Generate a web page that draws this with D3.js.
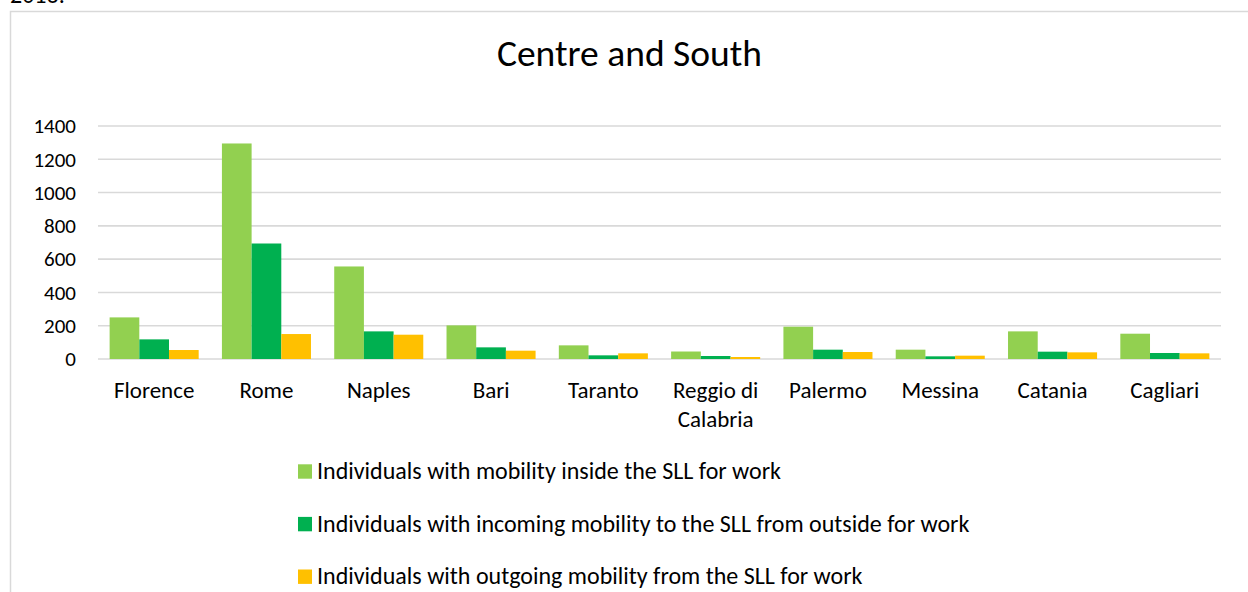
<!DOCTYPE html>
<html>
<head>
<meta charset="utf-8">
<script src="https://cdn.jsdelivr.net/npm/d3@7"></script>
<style>
  html, body { margin: 0; padding: 0; background: #fff; }
  svg { display: block; font-family: Carlito, Lato, "Open Sans", sans-serif; }
</style>
</head>
<body>
<svg id="chart" width="1248" height="592"></svg>
<script>
const categories = ["Florence", "Rome", "Naples", "Bari", "Taranto", "Reggio di Calabria", "Palermo", "Messina", "Catania", "Cagliari"];
const seriesNames = [
  "Individuals with mobility inside the SLL for work",
  "Individuals with incoming mobility to the SLL from outside for work",
  "Individuals with outgoing mobility from the SLL for work"
];
const insideValues   = [250, 1295, 556, 202, 82, 45, 194, 56, 166, 152];
const incomingValues = [118, 694, 166, 70, 22, 18, 56, 16, 44, 36];
const outgoingValues = [54, 150, 146, 50, 34, 12, 42, 20, 40, 34];
const seriesColors = ["#92d050", "#00b050", "#ffc000"];
const yTicks = [0, 200, 400, 600, 800, 1000, 1200, 1400];
const titleText = "Centre and South";
const topNote = "2016.";

const seriesValues = [insideValues, incomingValues, outgoingValues];
const svg = d3.select("#chart");

// cut-off caption text above the chart (as in the reference)
svg.append("text").attr("x", 10).attr("y", 3)
  .attr("font-size", 24).attr("fill", "#000").text(topNote);

// chart area border
svg.append("path")
  .attr("d", "M10.5,600 L10.5,11.5 L1260,11.5")
  .attr("fill", "none").attr("stroke", "#d9d9d9").attr("stroke-width", 1.5);

const x0 = d3.scaleBand().domain(categories).range([98, 1221])
  .paddingInner(0.207).paddingOuter(0.1035);
const x1 = d3.scaleBand().domain(d3.range(seriesNames.length)).range([0, x0.bandwidth()]);
const y = d3.scaleLinear().domain([0, 1400]).range([359, 126]);

// gridlines
svg.append("g").selectAll("line").data(yTicks).join("line")
  .attr("x1", 98).attr("x2", 1221)
  .attr("y1", d => y(d)).attr("y2", d => y(d))
  .attr("stroke", "#d9d9d9").attr("stroke-width", 1.6);

// y axis labels
const yAxis = svg.append("g").attr("transform", "translate(98,0)")
  .call(d3.axisLeft(y).tickValues(yTicks).tickFormat(d3.format("d")).tickSize(0).tickPadding(22));
yAxis.select(".domain").remove();
yAxis.selectAll("text").attr("font-size", 21).attr("fill", "#000")
  .attr("font-family", "Carlito, Lato, 'Open Sans', sans-serif");

// bars
const groups = svg.append("g").selectAll("g").data(categories).join("g")
  .attr("transform", c => `translate(${x0(c)},0)`);
groups.selectAll("rect")
  .data((c, i) => seriesValues.map((vals, s) => ({ s, v: vals[i] })))
  .join("rect")
  .attr("x", d => x1(d.s))
  .attr("width", x1.bandwidth())
  .attr("y", d => y(d.v))
  .attr("height", d => y(0) - y(d.v))
  .attr("fill", d => seriesColors[d.s]);

// x axis labels with wrapping
const maxW = x0.step() - 6;
categories.forEach(c => {
  const cx = x0(c) + x0.bandwidth() / 2;
  const t = svg.append("text")
    .attr("x", cx).attr("y", 397.5)
    .attr("text-anchor", "middle").attr("font-size", 23).attr("fill", "#000");
  const words = c.split(" ");
  let line = [];
  let tspan = t.append("tspan").attr("x", cx).attr("dy", 0);
  words.forEach(w => {
    line.push(w);
    tspan.text(line.join(" "));
    if (tspan.node().getComputedTextLength() > maxW && line.length > 1) {
      line.pop();
      tspan.text(line.join(" "));
      line = [w];
      tspan = t.append("tspan").attr("x", cx).attr("dy", 29.5).text(w);
    }
  });
});

// title
svg.append("text").attr("x", 629.5).attr("y", 65.5)
  .attr("text-anchor", "middle").attr("font-size", 37.5).attr("fill", "#000")
  .text(titleText);

// legend
const legend = svg.append("g").selectAll("g").data(seriesNames).join("g")
  .attr("transform", (d, i) => `translate(298,${471.5 + i * 52.6})`);
legend.append("rect").attr("x", 0).attr("y", -7.2).attr("width", 14).attr("height", 14.4)
  .attr("fill", (d, i) => seriesColors[i]);
legend.append("text").attr("x", 19).attr("y", 7.6)
  .attr("font-size", 24).attr("fill", "#000").text(d => d);
</script>
</body>
</html>
